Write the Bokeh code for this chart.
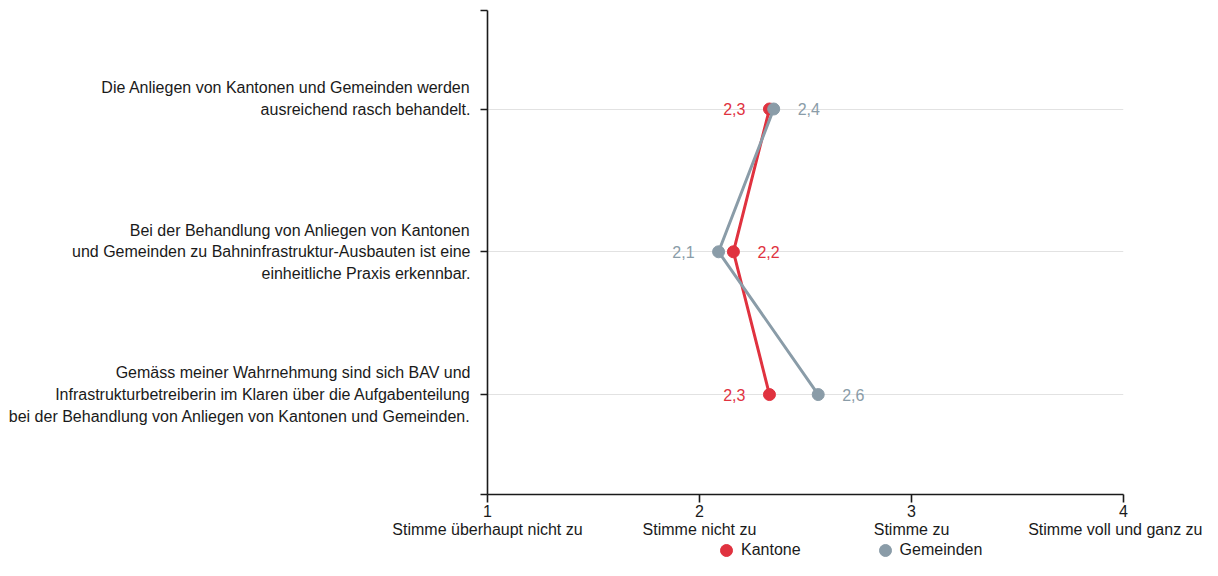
from bokeh.plotting import figure
from bokeh.models import (Range1d, FixedTicker, LinearAxis, Legend, LegendItem,
                          ColumnDataSource, LabelSet)
from bokeh.layouts import column
from bokeh.core.properties import value
from bokeh.embed import file_html
from bokeh.resources import INLINE

# ---- data ----
statements = [
    "Die Anliegen von Kantonen und Gemeinden werden\nausreichend rasch behandelt.",
    "Bei der Behandlung von Anliegen von Kantonen\nund Gemeinden zu Bahninfrastruktur-Ausbauten ist eine\neinheitliche Praxis erkennbar.",
    "Gemäss meiner Wahrnehmung sind sich BAV und\nInfrastrukturbetreiberin im Klaren über die Aufgabenteilung\nbei der Behandlung von Anliegen von Kantonen und Gemeinden.",
]
row_pos = [2, 1, 0]
kantone = [2.33, 2.16, 2.33]
gemeinden = [2.35, 2.09, 2.56]
kantone_labels = ["2,3", "2,2", "2,3"]
gemeinden_labels = ["2,4", "2,1", "2,6"]
series_names = ["Kantone", "Gemeinden"]
scale_ticks = [1, 2, 3, 4]
scale_numbers = ["1", "2", "3", "4"]
scale_labels = ["Stimme überhaupt nicht zu", "Stimme nicht zu", "Stimme zu",
                "Stimme voll und ganz zu"]

RED = "#E0323F"
GRAY = "#8A9CA8"
FONT = "Liberation Sans"
INK = "#1A1A1A"
FS = "16px"

Y_LO, Y_HI = -0.70, 2.69

p = figure(width=1202, height=540, output_backend="svg", toolbar_location=None,
           x_range=Range1d(1, 4), y_range=Range1d(Y_LO, Y_HI),
           min_border_left=487, min_border_right=79, min_border_top=10,
           min_border_bottom=46)
p.outline_line_color = None
p.background_fill_color = "white"

# grid
p.xgrid.visible = False
p.ygrid.ticker = FixedTicker(ticks=row_pos)
p.ygrid.grid_line_color = "#E2E2E2"
p.ygrid.grid_line_width = 1

# y axis (labels laid out as 3-line blocks, like the original)
ya = p.yaxis[0]
ya.ticker = FixedTicker(ticks=[Y_LO] + row_pos + [Y_HI])
ov = {Y_LO: "", Y_HI: ""}
for pos, s in zip(row_pos, statements):
    n = s.count("\n") + 1
    ov[pos] = s + "\n " * (3 - n)
ya.major_label_overrides = ov
ya.axis_line_color = INK
ya.axis_line_width = 1.6
ya.major_tick_line_color = INK
ya.major_tick_line_width = 1.6
ya.major_tick_in = 0
ya.major_tick_out = 7
ya.minor_tick_line_color = None
ya.major_label_standoff = 10
ya.major_label_text_font = FONT
ya.major_label_text_font_size = FS
ya.major_label_text_color = INK
ya.major_label_text_line_height = 1.27

# x axis (numbers)
xa = p.xaxis[0]
xa.ticker = FixedTicker(ticks=scale_ticks)
xa.major_label_overrides = {t: s for t, s in zip(scale_ticks, scale_numbers)}
xa.axis_line_color = INK
xa.axis_line_width = 1.6
xa.major_tick_line_color = INK
xa.major_tick_line_width = 1.6
xa.major_tick_in = 0
xa.major_tick_out = 8
xa.minor_tick_line_color = None
xa.major_label_standoff = 2
xa.major_label_text_font = FONT
xa.major_label_text_font_size = FS
xa.major_label_text_color = INK

# x axis (text labels)
xa2 = LinearAxis(ticker=FixedTicker(ticks=scale_ticks),
                 major_label_overrides={t: s for t, s in zip(scale_ticks, scale_labels)})
xa2.axis_line_color = None
xa2.major_tick_line_color = None
xa2.minor_tick_line_color = None
xa2.major_tick_in = 0
xa2.major_tick_out = 0
xa2.major_label_standoff = 1
xa2.major_label_text_font = FONT
xa2.major_label_text_font_size = FS
xa2.major_label_text_color = INK
p.add_layout(xa2, "below")

# lines & points
k_src = ColumnDataSource(dict(x=kantone, y=row_pos, lab=kantone_labels))
g_src = ColumnDataSource(dict(x=gemeinden, y=row_pos, lab=gemeinden_labels))

p.line("x", "y", source=k_src, line_color=RED, line_width=3)
p.scatter("x", "y", source=k_src, size=12, fill_color=RED, line_color=RED)
p.line("x", "y", source=g_src, line_color=GRAY, line_width=3)
p.scatter("x", "y", source=g_src, size=12, fill_color=GRAY, line_color=GRAY)

# value labels: lower value on the left, higher on the right
OFF = 24
k_off = [-OFF if k <= g else OFF for k, g in zip(kantone, gemeinden)]
g_off = [OFF if k <= g else -OFF for k, g in zip(kantone, gemeinden)]
k_src.data["off"] = k_off
k_src.data["al"] = ["right" if o < 0 else "left" for o in k_off]
g_src.data["off"] = g_off
g_src.data["al"] = ["right" if o < 0 else "left" for o in g_off]

for src, col in ((k_src, RED), (g_src, GRAY)):
    p.add_layout(LabelSet(x="x", y="y", text="lab", source=src, x_offset="off",
                          text_align="al", text_baseline="middle",
                          text_font=value(FONT), text_font_size=FS, text_color=col))

# ---- legend strip (frame aligned with the main plot's frame) ----
lf = figure(width=1202, height=20, output_backend="svg", toolbar_location=None,
            x_range=Range1d(0, 1), y_range=Range1d(0, 1),
            min_border=0)
lf.axis.visible = False
lf.grid.visible = False
lf.outline_line_color = None
items = []
for name, col in zip(series_names, (RED, GRAY)):
    # proxy renderer (point outside the strip's view) only used for the legend swatch
    r = lf.scatter(x=[-5], y=[-5], size=12, fill_color=col, line_color=col)
    items.append(LegendItem(label=name, renderers=[r]))
legend = Legend(items=items, orientation="horizontal", location=(224, -5))
legend.border_line_color = None
legend.background_fill_alpha = 0
legend.padding = 0
legend.margin = 0
legend.spacing = 69
legend.glyph_width = 30
legend.glyph_height = 30
legend.label_height = 16
legend.label_standoff = 0
legend.label_text_font = FONT
legend.label_text_font_size = FS
legend.label_text_color = INK
lf.add_layout(legend, "center")

layout = column(p, lf, spacing=0)
open("out.html", "w").write(file_html(layout, INLINE))
